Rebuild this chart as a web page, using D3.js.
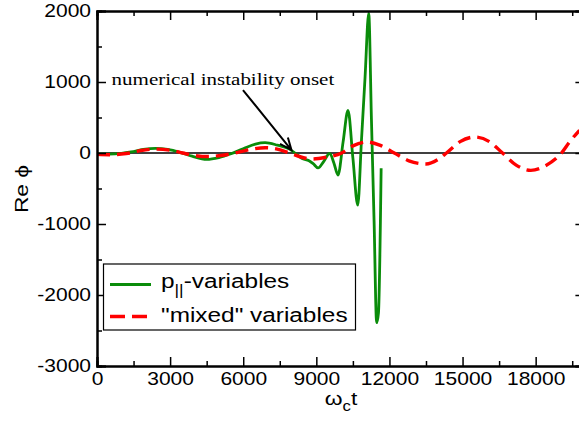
<!DOCTYPE html>
<html>
<head>
<meta charset="utf-8">
<script src="https://cdn.jsdelivr.net/npm/d3@7"></script>
<style>
    body { margin: 0; background: #fff; }
    svg { display: block; }
</style>
</head>
<body>
<div id="chart"></div>
<script>
// time (omega_c t) and Re phi
const greenT = [0, 500, 1000, 1400, 1900, 2400, 2900, 3400, 3900, 4500, 5000, 5500, 6000, 6500, 6900, 7400, 7900, 8200, 8400, 8700, 8870, 9070, 9300, 9550, 9720, 9890, 10100, 10300, 10500, 10700, 10850, 11000, 11150, 11260, 11370, 11475, 11550, 11660];
const greenV = [-15, -15, -5, 15, 50, 65, 50, 10, -45, -90, -65, -10, 60, 125, 145, 110, 55, -20, -75, -110, -150, -210, -120, -5, -140, -310, 160, 600, -70, -735, 165, 1070, 1970, 490, -960, -2390, -2250, -215];

const redT = [0, 500, 1000, 1350, 1800, 2400, 3000, 3520, 4000, 4550, 5100, 5650, 6200, 6900, 7400, 7900, 8400, 8850, 9400, 10040, 10500, 11070, 11600, 12200, 12800, 13500, 14000, 14340, 14900, 15500, 16100, 16640, 17200, 17800, 18400, 19060, 19400, 19800];
const redV = [-20, -25, -15, 0, 35, 55, 40, 0, -35, -50, -35, 0, 45, 75, 55, 0, -60, -85, -60, 0, 100, 155, 110, 0, -110, -155, -90, 0, 160, 225, 160, 0, -170, -245, -180, 0, 160, 320];

const seriesNames = ["p||-variables", "\"mixed\" variables"];
const xTicks = [0, 3000, 6000, 9000, 12000, 15000, 18000];
const yTicks = [-3000, -2000, -1000, 0, 1000, 2000];

const noteText = "numerical instability onset";
const noteAt = [600, 958];
const arrowFrom = [5990, 887];
const arrowTo = [7980, 42];

const width = 579;
const height = 423;
const stretch = 1.2;

const svg = d3.select("#chart").append("svg")
    .attr("width", width)
    .attr("height", height);

const x = d3.scaleLinear().domain([0, 20000]).range([97, 584.4]);
const y = d3.scaleLinear().domain([-3000, 2000]).range([366, 11]);

svg.append("defs").append("clipPath").attr("id", "plot")
    .append("rect")
    .attr("x", x(0)).attr("y", y(2000))
    .attr("width", x(20000) - x(0)).attr("height", y(-3000) - y(2000));

// zero line
svg.append("line")
    .attr("x1", x(0)).attr("x2", x(20000))
    .attr("y1", y(0)).attr("y2", y(0))
    .attr("stroke", "#000").attr("stroke-width", 1.6);

const line = d3.line()
    .x(d => x(d[0]))
    .y(d => y(d[1]))
    .curve(d3.curveMonotoneX);

const green = greenT.map((t, i) => [t, greenV[i]]);
const red = redT.map((t, i) => [t, redV[i]]);

const curves = svg.append("g").attr("clip-path", "url(#plot)");
curves.append("path").datum(green)
    .attr("d", line)
    .attr("fill", "none")
    .attr("stroke", "#0a8c0a")
    .attr("stroke-width", 2.8)
    .attr("stroke-linejoin", "round");
curves.append("path").datum(red)
    .attr("d", line)
    .attr("fill", "none")
    .attr("stroke", "#ff0000")
    .attr("stroke-width", 3.4)
    .attr("stroke-dasharray", "13,7");

// axes, ticks inside on all four sides
function styleAxis(g) {
    g.select(".domain").attr("stroke-width", 2);
    g.selectAll(".tick line").attr("stroke-width", 1.5);
    g.selectAll("text")
        .attr("font-family", "Liberation Sans, Arial, sans-serif")
        .attr("font-size", 17.5)
        .attr("fill", "#000")
        .attr("transform", `scale(${stretch},1)`);
}

const xMinor = d3.range(1500, 20000, 3000);
const yMinor = d3.range(-2500, 2000, 1000);

svg.append("g")
    .attr("transform", `translate(0,${y(-3000)})`)
    .call(d3.axisBottom(x).tickValues(xTicks).tickSize(-9).tickPadding(7).tickFormat(d => String(d)))
    .call(styleAxis);
svg.append("g")
    .attr("transform", `translate(0,${y(-3000)})`)
    .call(d3.axisBottom(x).tickValues(xMinor).tickSize(-5).tickFormat(""))
    .call(styleAxis);
svg.append("g")
    .attr("transform", `translate(0,${y(2000)})`)
    .call(d3.axisTop(x).tickValues(xTicks).tickSize(-9).tickFormat(""))
    .call(styleAxis);
svg.append("g")
    .attr("transform", `translate(0,${y(2000)})`)
    .call(d3.axisTop(x).tickValues(xMinor).tickSize(-5).tickFormat(""))
    .call(styleAxis);

svg.append("g")
    .attr("transform", `translate(${x(0)},0)`)
    .call(d3.axisLeft(y).tickValues(yTicks).tickSize(-9).tickPadding(5).tickFormat(d => String(d)))
    .call(styleAxis);
svg.append("g")
    .attr("transform", `translate(${x(0)},0)`)
    .call(d3.axisLeft(y).tickValues(yMinor).tickSize(-5).tickFormat(""))
    .call(styleAxis);
svg.append("g")
    .attr("transform", `translate(${x(20000)},0)`)
    .call(d3.axisRight(y).tickValues(yTicks).tickSize(-9).tickFormat(""))
    .call(styleAxis);
svg.append("g")
    .attr("transform", `translate(${x(20000)},0)`)
    .call(d3.axisRight(y).tickValues(yMinor).tickSize(-5).tickFormat(""))
    .call(styleAxis);

// axis titles
const xTitle = svg.append("text")
    .attr("transform", `translate(341,405) scale(${stretch},1)`)
    .attr("text-anchor", "middle")
    .attr("font-family", "Liberation Sans, Arial, sans-serif")
    .attr("font-size", 19);
xTitle.append("tspan").text("ω");
xTitle.append("tspan").attr("font-size", 14).attr("dy", 6).text("c");
xTitle.append("tspan").attr("dy", -6).text("t");

svg.append("text")
    .attr("transform", `translate(28,189) rotate(-90) scale(${stretch},1)`)
    .attr("text-anchor", "middle")
    .attr("font-family", "Liberation Sans, Arial, sans-serif")
    .attr("font-size", 19)
    .text("Re ϕ");

// annotation
svg.append("text")
    .attr("transform", `translate(${x(noteAt[0])},${y(noteAt[1])}) scale(${stretch},1)`)
    .attr("font-family", "Liberation Serif, Times New Roman, serif")
    .attr("font-size", 17.5)
    .text(noteText);

const ax0 = x(arrowFrom[0]), ay0 = y(arrowFrom[1]);
const ax1 = x(arrowTo[0]), ay1 = y(arrowTo[1]);
const ang = Math.atan2(ay1 - ay0, ax1 - ax0);
const head = 13, spread = 0.4;
svg.append("path")
    .attr("d", `M${ax0},${ay0}L${ax1},${ay1}` +
        `M${ax1 - head * Math.cos(ang - spread)},${ay1 - head * Math.sin(ang - spread)}L${ax1},${ay1}` +
        `L${ax1 - head * Math.cos(ang + spread)},${ay1 - head * Math.sin(ang + spread)}`)
    .attr("fill", "none")
    .attr("stroke", "#000")
    .attr("stroke-width", 2);

// legend
const legend = svg.append("g");
legend.append("rect")
    .attr("x", 103.5).attr("y", 264)
    .attr("width", 252).attr("height", 66)
    .attr("fill", "#fff").attr("stroke", "#000").attr("stroke-width", 1.2);

legend.append("line")
    .attr("x1", 110).attr("x2", 151).attr("y1", 284.5).attr("y2", 284.5)
    .attr("stroke", "#0a8c0a").attr("stroke-width", 2.8);
legend.append("line")
    .attr("x1", 110).attr("x2", 151).attr("y1", 316.5).attr("y2", 316.5)
    .attr("stroke", "#ff0000").attr("stroke-width", 3.4).attr("stroke-dasharray", "15,7");

const l1 = legend.append("text")
    .attr("transform", `translate(161,288) scale(1.25,1)`)
    .attr("font-family", "Liberation Sans, Arial, sans-serif")
    .attr("font-size", 19.5);
l1.append("tspan").text(seriesNames[0].slice(0, 1));
l1.append("tspan").attr("font-size", 14).attr("dy", 7).text(seriesNames[0].slice(1, 3));
l1.append("tspan").attr("dy", -7).text(seriesNames[0].slice(3));

legend.append("text")
    .attr("transform", `translate(161,322) scale(1.25,1)`)
    .attr("font-family", "Liberation Sans, Arial, sans-serif")
    .attr("font-size", 19.5)
    .text(seriesNames[1]);
</script>
</body>
</html>
